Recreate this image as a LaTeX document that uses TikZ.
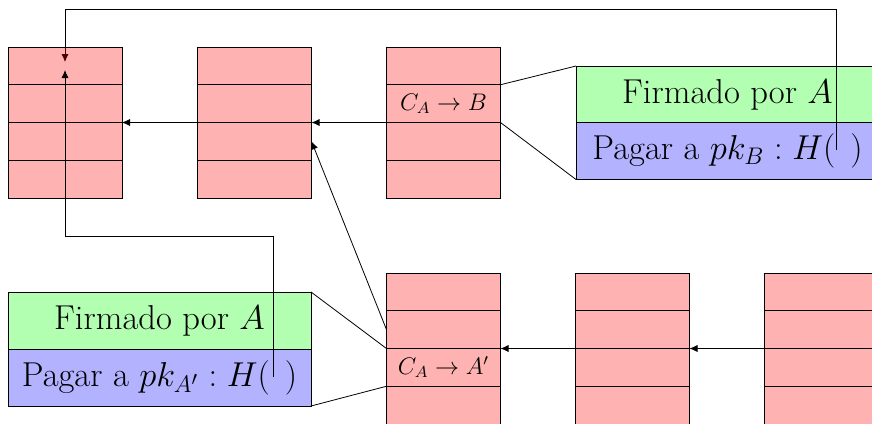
\documentclass[tikz,border=0pt]{standalone}
\usetikzlibrary{calc,arrows.meta}
\begin{document}
\begin{tikzpicture}[x=0.5pt,y=-0.5pt,
  block/.style={draw, fill=red, fill opacity=0.3, text opacity=1,
    minimum width=57pt, minimum height=75.5pt, inner sep=0pt, outer sep=0pt},
  signbox/.style={draw, fill=green!30, minimum width=151.5pt,
    minimum height=28.5pt, inner sep=0pt, outer sep=0pt,
    font=\fontsize{17.28}{20}\selectfont},
  paybox/.style={draw, fill=blue!30, minimum width=151.5pt,
    minimum height=28.5pt, inner sep=0pt, outer sep=0pt,
    font=\fontsize{17.28}{20}\selectfont},
  cell/.style={font=\fontsize{12}{14}\selectfont, inner sep=0pt},
  link/.style={-{Latex[length=4pt,width=3.6pt]}}]
\useasboundingbox (0,0) rectangle (872,423);
\clip (0,0) rectangle (872,423);

% expanded transactions
\node[signbox] (gT) at (727.5,94.5) {Firmado por $A$};
\node[paybox]  (bT) at (727.5,151)  {Pagar a $pk_B : H(\hspace{7.5pt})$};
\node[signbox] (gB) at (159.5,320.5) {Firmado por $A$};
\node[paybox]  (bB) at (159.5,377.5) {Pagar a $pk_{A'} : H(\hspace{7.5pt})$};

% hash pointer of the upper transaction, running behind the blocks
\coordinate (hT) at (836,150);
\coordinate (tipT) at (65,62);
\draw[link] (hT) -- (836,9) -| (tipT);

% blocks of the two chains
\foreach \n/\x/\y in {a1/65/122.5, a2/254.5/122.5, a3/443.5/122.5,
                      c1/443.5/348.5, c2/632.5/348.5, c3/821.5/348.5}{
  \node[block] (\n) at (\x,\y) {};
  \foreach \f in {0.25,0.5,0.75}
    \draw ($(\n.north west)!\f!(\n.south west)$) -- ($(\n.north east)!\f!(\n.south east)$);
}

\node[cell] at ($(a3.north)!0.375!(a3.south)$) {$C_A \to B$};
\node[cell] at ($(c1.north)!0.625!(c1.south)$) {$C_A \to A'$};

% zoom lines from the transaction to its expansion
\draw ($(a3.north east)!0.25!(a3.south east)$) -- (gT.north west);
\draw (a3.east) -- (bT.south west);
\draw (gB.north east) -- (c1.west);
\draw (bB.south east) -- ($(c1.north west)!0.75!(c1.south west)$);

% chain links
\draw[link] (a2.west) -- (a1.east);
\draw[link] (a3.west) -- (a2.east);
\draw[link] (c2.west) -- (c1.east);
\draw[link] (c3.west) -- (c2.east);
\draw[link] ($(c1.north west)!0.375!(c1.south west)$) -- ($(a2.north east)!0.625!(a2.south east)$);

% hash pointer of the lower transaction
\coordinate (hB) at (273,377);
\coordinate (tipB) at (65,70);
\draw[link] (hB) -- (273,236) -| (tipB);
\end{tikzpicture}
\end{document}
